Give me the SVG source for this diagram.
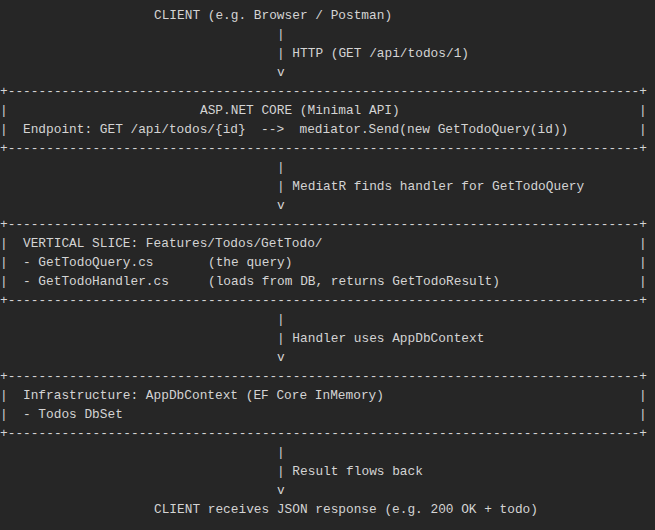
<svg xmlns="http://www.w3.org/2000/svg" width="655" height="530" viewBox="0 0 655 530">
<style>
text{font-family:"Liberation Mono","DejaVu Sans Mono",monospace;font-size:12.8px;fill:#d4d4d4;white-space:pre}
.b{font-size:12.8px}
</style>
<rect width="655" height="530" fill="#262626"/>
<g id="client-top"><text x="154" y="18.5">CLIENT (e.g. Browser / Postman)</text></g>
<g id="connectors">
<text x="277" y="37.5">|</text><text x="277" y="56.5">| HTTP (GET /api/todos/1)</text><text x="277" y="75.5">v</text>
<text x="277" y="170.5">|</text><text x="277" y="189.5">| MediatR finds handler for GetTodoQuery</text><text x="277" y="208.5">v</text>
<text x="277" y="322.5">|</text><text x="277" y="341.5">| Handler uses AppDbContext</text><text x="277" y="360.5">v</text>
<text x="277" y="455.5">|</text><text x="277" y="474.5">| Result flows back</text><text x="277" y="493.5">v</text>
</g>
<g id="aspnet">
<text class="b" x="0" y="94.5" textLength="647">+----------------------------------------------------------------------------------+</text>
<text x="0" y="113.5">|</text><text x="200" y="113.5">ASP.NET CORE (Minimal API)</text><text x="639" y="113.5">|</text>
<text x="0" y="132.5">|</text><text x="23" y="132.5">Endpoint: GET /api/todos/{id}  -->  mediator.Send(new GetTodoQuery(id))</text><text x="639" y="132.5">|</text>
<text class="b" x="0" y="151.5" textLength="647">+----------------------------------------------------------------------------------+</text>
</g>
<g id="slice">
<text class="b" x="0" y="227.5" textLength="647">+----------------------------------------------------------------------------------+</text>
<text x="0" y="246.5">|</text><text x="23" y="246.5">VERTICAL SLICE: Features/Todos/GetTodo/</text><text x="639" y="246.5">|</text>
<text x="0" y="265.5">|</text><text x="23" y="265.5">- GetTodoQuery.cs</text><text x="208" y="265.5">(the query)</text><text x="639" y="265.5">|</text>
<text x="0" y="284.5">|</text><text x="23" y="284.5">- GetTodoHandler.cs</text><text x="208" y="284.5">(loads from DB, returns GetTodoResult)</text><text x="639" y="284.5">|</text>
<text class="b" x="0" y="303.5" textLength="647">+----------------------------------------------------------------------------------+</text>
</g>
<g id="infra">
<text class="b" x="0" y="379.5" textLength="647">+----------------------------------------------------------------------------------+</text>
<text x="0" y="398.5">|</text><text x="23" y="398.5">Infrastructure: AppDbContext (EF Core InMemory)</text><text x="639" y="398.5">|</text>
<text x="0" y="417.5">|</text><text x="23" y="417.5">- Todos DbSet</text><text x="639" y="417.5">|</text>
<text class="b" x="0" y="436.5" textLength="647">+----------------------------------------------------------------------------------+</text>
</g>
<g id="client-bottom"><text x="154" y="512.5">CLIENT receives JSON response (e.g. 200 OK + todo)</text></g>
</svg>
